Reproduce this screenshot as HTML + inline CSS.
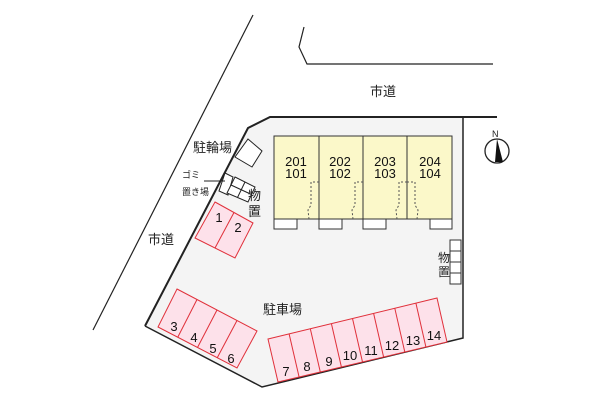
<!DOCTYPE html>
<html><head><meta charset="utf-8"><style>
html,body{margin:0;padding:0;background:#fff;}
svg{display:block;font-family:"Liberation Sans","Noto Sans CJK JP",sans-serif;}
</style></head><body>
<svg width="600" height="400" viewBox="0 0 600 400" xmlns="http://www.w3.org/2000/svg">
<!-- roads -->
<polyline points="304,27 299,47 307,64 493,64" fill="none" stroke="#222" stroke-width="1.2"/>
<line x1="253" y1="15" x2="93" y2="330" stroke="#222" stroke-width="1.2"/>
<!-- site -->
<polygon points="248,128 270,117 463,117 463,338 262,387 145,326" fill="#f4f4f4" stroke="none"/>
<polyline points="145,326 248,128 270,117 497,117" fill="none" stroke="#222" stroke-width="2"/>
<polyline points="463,117 463,338 262,387 145,326" fill="none" stroke="#222" stroke-width="1.5"/>
<text x="370" y="96" font-size="13" fill="#222">市道</text>
<text x="148" y="244" font-size="13" fill="#222">市道</text>
<!-- compass -->
<circle cx="497" cy="151" r="12" fill="#fff" stroke="#222" stroke-width="1.3"/>
<polygon points="497,139 503,162 495,162" fill="#111"/>
<text x="492" y="137" font-size="9" fill="#222">N</text>
<!-- building -->
<rect x="274" y="136" width="178" height="83" fill="#fbf8c9" stroke="#333" stroke-width="1"/>
<line x1="319" y1="136" x2="319" y2="219" stroke="#333"/>
<line x1="363" y1="136" x2="363" y2="219" stroke="#333"/>
<line x1="407" y1="136" x2="407" y2="219" stroke="#333"/>
<g fill="none" stroke="#555" stroke-dasharray="2,2" stroke-width="1">
<polyline points="319,182 311,182 311,205 308,210 309,219"/>
<polyline points="363,182 355,182 355,205 352,210 353,219"/>
<polyline points="407,182 399,182 399,205 396,210 397,219"/>
<polyline points="407,182 415,182 415,205 418,210 417,219"/>
</g>
<g font-size="13" fill="#111" text-anchor="middle">
<text x="296" y="166">201</text><text x="296" y="178">101</text>
<text x="340" y="166">202</text><text x="340" y="178">102</text>
<text x="385" y="166">203</text><text x="385" y="178">103</text>
<text x="430" y="166">204</text><text x="430" y="178">104</text>
</g>
<g fill="#fff" stroke="#333">
<rect x="274" y="219" width="23" height="10"/>
<rect x="319" y="219" width="23" height="10"/>
<rect x="363" y="219" width="23" height="10"/>
<rect x="430" y="219" width="22" height="10"/>
<rect x="450" y="240" width="11" height="11"/>
<rect x="450" y="251" width="11" height="11"/>
<rect x="450" y="262" width="11" height="11"/>
<rect x="450" y="273" width="11" height="11"/>
</g>
<text x="438" y="262" font-size="12" fill="#222">物</text>
<text x="438" y="276" font-size="12" fill="#222">置</text>
<!-- bike, gomi, storage -->
<polygon points="248,139 262,151 252,167 235,157" fill="#fff" stroke="#222"/>
<text x="193" y="152" font-size="13" fill="#222">駐輪場</text>
<polygon points="225,173 233,177 228,195 219,191" fill="#fff" stroke="#222"/>
<line x1="204" y1="181" x2="225" y2="181" stroke="#222"/>
<text x="182" y="178" font-size="9" fill="#222">ゴミ</text>
<text x="182" y="195" font-size="9" fill="#222">置き場</text>
<polygon points="235,177 255,187 248,202 227,193" fill="#fff" stroke="#222"/>
<line x1="245" y1="182" x2="237.5" y2="197.5" stroke="#222"/>
<line x1="231" y1="185" x2="251.5" y2="194.5" stroke="#222"/>
<text x="248" y="200" font-size="13" fill="#222">物</text>
<text x="248" y="216" font-size="13" fill="#222">置</text>
<!-- parking -->
<g fill="#fde1ea" stroke="#e0303a" stroke-width="1">
<polygon points="215,202 253,223 235,258 195,238"/>
<line x1="234" y1="212.5" x2="215" y2="248"/>
<polygon points="177,289 257,331 237,368 158,327"/>
<line x1="197" y1="299.5" x2="177.75" y2="337.25"/>
<line x1="217" y1="310" x2="197.5" y2="347.5"/>
<line x1="237" y1="320.5" x2="217.25" y2="357.75"/>
<polygon points="268,339 437,298 447,342 278,382"/>
<line x1="289.1" y1="333.9" x2="299.1" y2="377"/>
<line x1="310.3" y1="328.8" x2="320.3" y2="372"/>
<line x1="331.4" y1="323.6" x2="341.4" y2="367"/>
<line x1="352.5" y1="318.5" x2="362.5" y2="362"/>
<line x1="373.6" y1="313.4" x2="383.6" y2="357"/>
<line x1="394.8" y1="308.3" x2="404.8" y2="352"/>
<line x1="415.9" y1="303.1" x2="425.9" y2="347"/>
</g>
<g font-size="13" fill="#111" text-anchor="middle">
<text x="219" y="222">1</text><text x="238" y="232">2</text>
<text x="174" y="331">3</text><text x="194" y="342">4</text><text x="213" y="353">5</text><text x="231" y="363">6</text>
<text x="286" y="376">7</text><text x="307" y="371">8</text><text x="329" y="366">9</text>
<text x="350" y="360">10</text><text x="371" y="355">11</text><text x="392" y="350">12</text>
<text x="413" y="345">13</text><text x="434" y="340">14</text>
</g>
<text x="263" y="314" font-size="13" fill="#222">駐車場</text>
</svg>
</body></html>
